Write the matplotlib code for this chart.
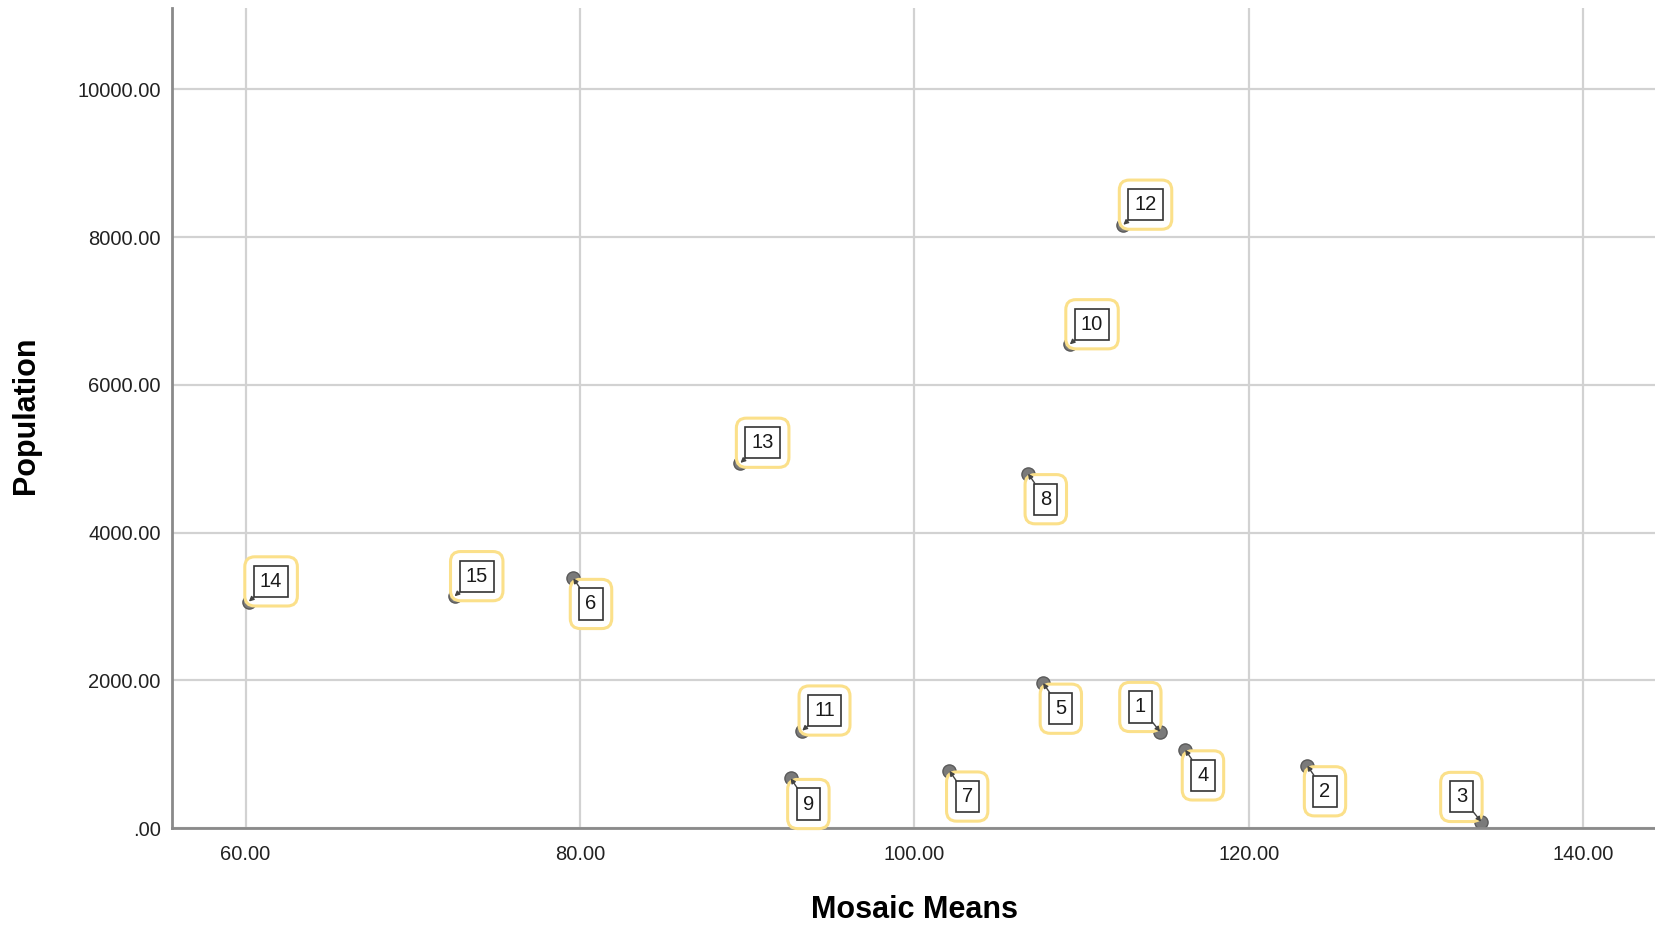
import matplotlib
matplotlib.use('Agg')
from matplotlib import pyplot as plt

# case numbers, x = Mosaic Means, y = Population
case_ids = [1, 2, 3, 4, 5, 6, 7, 8, 9, 10, 11, 12, 13, 14, 15]
mosaic_means = [114.7, 123.5, 133.9, 116.2, 107.7, 79.6, 102.1, 106.8, 92.6, 109.3, 93.3, 112.5, 89.6, 60.2, 72.5]
population = [1304, 845, 86, 1060, 1963, 3381, 774, 4799, 673, 6547, 1318, 8166, 4943, 3066, 3137]

x_ticks = [60, 80, 100, 120, 140]
y_ticks = [0, 2000, 4000, 6000, 8000, 10000]

# where each case label sits relative to its point
label_side = {1: 'ul', 3: 'ul', 10: 'ur', 11: 'ur', 12: 'ur', 13: 'ur', 14: 'ur', 15: 'ur'}
side_offset = {'ur': (16, 14.5), 'dr': (12.8, -18.5), 'ul': (-14.2, 17.8)}

plt.rcParams['font.family'] = ['Liberation Sans', 'DejaVu Sans']

fig = plt.figure(figsize=(16.55, 9.26), dpi=100)
ax = fig.add_axes([0.1039, 0.1058, 0.8961, 0.8855])

ax.scatter(mosaic_means, population, s=90, facecolor='#7a7a7a', edgecolor='#5a5a5a',
           linewidth=1, zorder=2)

for cid, xv, yv in zip(case_ids, mosaic_means, population):
    off = side_offset[label_side.get(cid, 'dr')]
    # outer yellow frame
    ax.annotate(str(cid), (xv, yv), xytext=off, textcoords='offset points',
                ha='center', va='center', fontsize=14.5, color='none', zorder=3,
                bbox=dict(boxstyle='round,pad=0.75,rounding_size=0.5', fc='white',
                          ec='#fbe08a', lw=2.2))
    # inner black box with pointer
    ax.annotate(str(cid), (xv, yv), xytext=off, textcoords='offset points',
                ha='center', va='center', fontsize=14.5, color='#1a1a1a', zorder=4,
                bbox=dict(boxstyle='square,pad=0.3', fc='white', ec='#333333', lw=1.2),
                arrowprops=dict(arrowstyle='-|>', color='#444444', lw=1.0,
                                mutation_scale=7, shrinkA=0, shrinkB=0))

ax.set_xlim(55.6, 144.3)
ax.set_ylim(0, 11100)
ax.set_xticks(x_ticks)
ax.set_yticks(y_ticks)
ax.set_xticklabels([f'{v:.2f}' for v in x_ticks])
ax.set_yticklabels(['.00' if v == 0 else f'{v:.2f}' for v in y_ticks])
ax.tick_params(length=0, labelsize=14.5, colors='#222222')
ax.tick_params(axis='y', pad=8)
ax.tick_params(axis='x', pad=12)

ax.grid(True, color='#d2d2d2', linewidth=1.6)
ax.set_axisbelow(True)
for side in ['top', 'right']:
    ax.spines[side].set_visible(False)
for side in ['left', 'bottom']:
    ax.spines[side].set_color('#8a8a8a')
    ax.spines[side].set_linewidth(2)

ax.set_xlabel('Mosaic Means', fontsize=22, fontweight='bold')
ax.xaxis.set_label_coords(0.501, -0.1)
ax.xaxis.label.set_va('center')
ax.set_ylabel('Population', fontsize=22, fontweight='bold')
ax.yaxis.set_label_coords(-0.0985, 0.503)
ax.yaxis.label.set_va('center')

fig.savefig('out.png', dpi=100)
